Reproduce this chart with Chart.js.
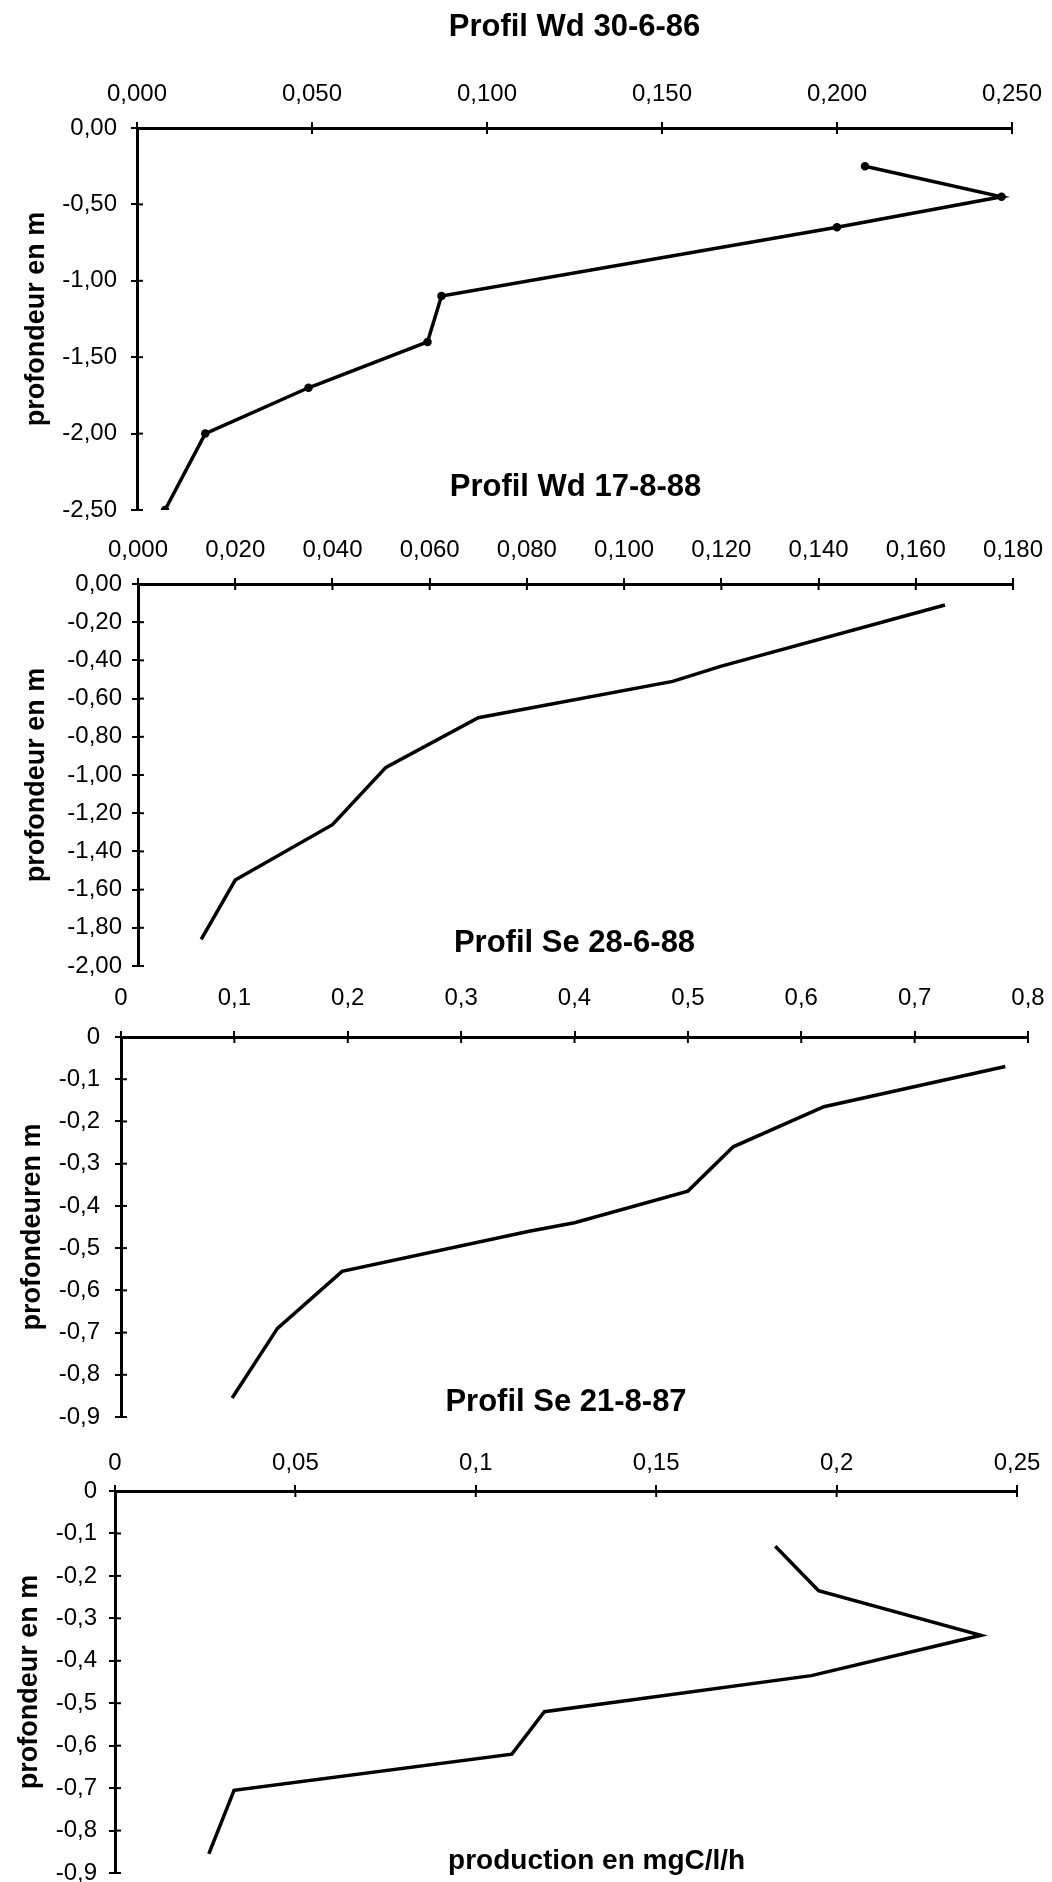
<!DOCTYPE html>
<html lang="fr">
<head>
<meta charset="UTF-8">
<title>Profils de production</title>
<script src="https://cdn.jsdelivr.net/npm/chart.js"></script>
<style>
body {
  margin: 0;
  background: #fff;
  width: 1052px;
  height: 1882px;
  overflow: hidden;
  position: relative;
}
canvas {
  position: absolute;
  left: 0;
}
</style>
</head>
<body>
<canvas id="wd86" width="1052" height="525" style="top:0px"></canvas>
<canvas id="wd88" width="1052" height="521" style="top:460px"></canvas>
<canvas id="se88" width="1052" height="517" style="top:915px"></canvas>
<canvas id="se87" width="1052" height="506" style="top:1376px"></canvas>
<script>
// Profil Wd 30-6-86
var wd86Prod  = [0.208, 0.247, 0.200, 0.087, 0.083, 0.049, 0.0195, 0.008];
var wd86Depth = [-0.25, -0.45, -0.65, -1.10, -1.40, -1.70, -2.00, -2.50];
var wd86XTicks  = [0, 0.05, 0.1, 0.15, 0.2, 0.25];
var wd86XLabels = ['0,000', '0,050', '0,100', '0,150', '0,200', '0,250'];
var wd86YTicks  = [0, -0.5, -1, -1.5, -2, -2.5];
var wd86YLabels = ['0,00', '-0,50', '-1,00', '-1,50', '-2,00', '-2,50'];

// Profil Wd 17-8-88
var wd88Prod  = [0.166, 0.120, 0.110, 0.070, 0.051, 0.040, 0.020, 0.013];
var wd88Depth = [-0.11, -0.43, -0.51, -0.70, -0.96, -1.26, -1.55, -1.86];
var wd88XTicks  = [0, 0.02, 0.04, 0.06, 0.08, 0.1, 0.12, 0.14, 0.16, 0.18];
var wd88XLabels = ['0,000', '0,020', '0,040', '0,060', '0,080', '0,100', '0,120', '0,140', '0,160', '0,180'];
var wd88YTicks  = [0, -0.2, -0.4, -0.6, -0.8, -1, -1.2, -1.4, -1.6, -1.8, -2];
var wd88YLabels = ['0,00', '-0,20', '-0,40', '-0,60', '-0,80', '-1,00', '-1,20', '-1,40', '-1,60', '-1,80', '-2,00'];

// Profil Se 28-6-88
var se88Prod  = [0.78, 0.62, 0.54, 0.50, 0.40, 0.36, 0.195, 0.138, 0.098];
var se88Depth = [-0.07, -0.165, -0.26, -0.365, -0.44, -0.46, -0.555, -0.69, -0.855];
var se88XTicks  = [0, 0.1, 0.2, 0.3, 0.4, 0.5, 0.6, 0.7, 0.8];
var se88XLabels = ['0', '0,1', '0,2', '0,3', '0,4', '0,5', '0,6', '0,7', '0,8'];
var se88YTicks  = [0, -0.1, -0.2, -0.3, -0.4, -0.5, -0.6, -0.7, -0.8, -0.9];
var se88YLabels = ['0', '-0,1', '-0,2', '-0,3', '-0,4', '-0,5', '-0,6', '-0,7', '-0,8', '-0,9'];

// Profil Se 21-8-87
var se87Prod  = [0.183, 0.195, 0.240, 0.193, 0.119, 0.110, 0.033, 0.026];
var se87Depth = [-0.13, -0.235, -0.34, -0.435, -0.52, -0.62, -0.705, -0.855];
var se87XTicks  = [0, 0.05, 0.1, 0.15, 0.2, 0.25];
var se87XLabels = ['0', '0,05', '0,1', '0,15', '0,2', '0,25'];
var se87YTicks  = se88YTicks;
var se87YLabels = se88YLabels;

var FONT = '"Liberation Sans", Arial, sans-serif';

// small cross ticks inside the plot
var innerTicks = {
  id: 'innerTicks',
  afterDraw: function(chart) {
    var a = chart.chartArea, ctx = chart.ctx;
    var sx = chart.scales.x, sy = chart.scales.y;
    ctx.save();
    ctx.strokeStyle = '#000';
    ctx.lineWidth = 2;
    sx.ticks.forEach(function(t) {
      var px = sx.getPixelForValue(t.value);
      ctx.beginPath(); ctx.moveTo(px, a.top); ctx.lineTo(px, a.top + 6); ctx.stroke();
    });
    sy.ticks.forEach(function(t) {
      var py = sy.getPixelForValue(t.value);
      ctx.beginPath(); ctx.moveTo(a.left, py); ctx.lineTo(a.left + 6, py); ctx.stroke();
    });
    ctx.restore();
  }
};

// x axis caption sitting inside the last panel
var caption = {
  id: 'caption',
  afterDraw: function(chart, args, opts) {
    if (!opts || !opts.text) return;
    var a = chart.chartArea, ctx = chart.ctx;
    ctx.save();
    ctx.font = 'bold 28px ' + FONT;
    ctx.fillStyle = '#000';
    ctx.textAlign = 'center';
    ctx.textBaseline = 'middle';
    ctx.fillText(opts.text, a.left + (a.right - a.left) * opts.at, a.bottom - opts.lift);
    ctx.restore();
  }
};

function toPoints(xs, ys) {
  return xs.map(function(x, i) { return {x: x, y: ys[i]}; });
}

function makeProfile(id, p) {
  return new Chart(document.getElementById(id), {
    type: 'scatter',
    data: {
      datasets: [{
        data: toPoints(p.xs, p.ys),
        showLine: true,
        borderColor: '#000',
        backgroundColor: '#000',
        borderWidth: 3.5,
        tension: 0,
        pointRadius: p.dots ? 2.5 : 0,
        pointHoverRadius: 0
      }]
    },
    plugins: [innerTicks, caption],
    options: {
      responsive: false,
      animation: false,
      devicePixelRatio: 1,
      layout: { padding: { left: 0, top: 0, right: p.padRight, bottom: p.padBottom } },
      plugins: {
        legend: { display: false },
        tooltip: { enabled: false },
        title: {
          display: true,
          text: p.title,
          fullSize: false,
          color: '#000',
          font: { family: FONT, size: 31, weight: 'bold' },
          padding: { top: p.titleTop, bottom: 0 }
        },
        caption: p.caption || {}
      },
      scales: {
        x: {
          type: 'linear',
          position: 'top',
          min: 0,
          max: p.xMax,
          afterBuildTicks: function(axis) {
            axis.ticks = p.xTicks.map(function(v) { return {value: v}; });
          },
          afterFit: function(axis) {
            axis.height = p.xHeight;
            axis.paddingLeft = 0; axis.paddingRight = 0;
            axis.paddingTop = 0; axis.paddingBottom = 0;
          },
          ticks: {
            autoSkip: false,
            maxRotation: 0,
            color: '#000',
            padding: p.xPad,
            font: { family: FONT, size: 24 },
            callback: function(v, i) { return p.xLabels[i]; }
          },
          grid: { drawOnChartArea: false, drawTicks: true, tickLength: 6, color: '#000', lineWidth: 2 },
          border: { display: true, color: '#000', width: 3 }
        },
        y: {
          type: 'linear',
          position: 'left',
          min: p.yMin,
          max: 0,
          afterBuildTicks: function(axis) {
            axis.ticks = p.yTicks.map(function(v) { return {value: v}; });
          },
          afterFit: function(axis) {
            axis.width = p.yWidth;
            axis.paddingLeft = 0; axis.paddingRight = 0;
            axis.paddingTop = 0; axis.paddingBottom = 0;
          },
          ticks: {
            autoSkip: false,
            color: '#000',
            padding: p.yPad,
            font: { family: FONT, size: 24 },
            callback: function(v, i) { return p.yLabels[i]; }
          },
          title: {
            display: true,
            text: p.yTitle,
            color: '#000',
            font: { family: FONT, size: 27, weight: 'bold' },
            padding: { top: p.yTitlePad, bottom: 0 }
          },
          grid: { drawOnChartArea: false, drawTicks: true, tickLength: 6, color: '#000', lineWidth: 2 },
          border: { display: true, color: '#000', width: 3 }
        }
      }
    }
  });
}

makeProfile('wd86', {
  title: 'Profil Wd 30-6-86', yTitle: 'profondeur en m',
  xs: wd86Prod, ys: wd86Depth, dots: true,
  xMax: 0.25, xTicks: wd86XTicks, xLabels: wd86XLabels,
  yMin: -2.5, yTicks: wd86YTicks, yLabels: wd86YLabels,
  titleTop: 9, xHeight: 81.8, xPad: 13.6,
  yWidth: 137, yPad: 14, yTitlePad: 20.8,
  padRight: 40, padBottom: 15
});

makeProfile('wd88', {
  title: 'Profil Wd 17-8-88', yTitle: 'profondeur en m',
  xs: wd88Prod, ys: wd88Depth,
  xMax: 0.18, xTicks: wd88XTicks, xLabels: wd88XLabels,
  yMin: -2, yTicks: wd88YTicks, yLabels: wd88YLabels,
  titleTop: 8.4, xHeight: 78.4, xPad: 13.6,
  yWidth: 138, yPad: 10, yTitlePad: 20.8,
  padRight: 39, padBottom: 15
});

makeProfile('se88', {
  title: 'Profil Se 28-6-88', yTitle: 'profondeuren m',
  xs: se88Prod, ys: se88Depth,
  xMax: 0.8, xTicks: se88XTicks, xLabels: se88XLabels,
  yMin: -0.9, yTicks: se88YTicks, yLabels: se88YLabels,
  titleTop: 9.4, xHeight: 75.4, xPad: 18.6,
  yWidth: 121, yPad: 15, yTitlePad: 16.8,
  padRight: 24, padBottom: 15
});

makeProfile('se87', {
  title: 'Profil Se 21-8-87', yTitle: 'profondeur en m',
  xs: se87Prod, ys: se87Depth,
  xMax: 0.25, xTicks: se87XTicks, xLabels: se87XLabels,
  yMin: -0.9, yTicks: se87YTicks, yLabels: se87YLabels,
  titleTop: 7.4, xHeight: 70.4, xPad: 7.6,
  yWidth: 115, yPad: 12, yTitlePad: 13.8,
  padRight: 35, padBottom: 9,
  caption: { text: 'production en mgC/l/h', at: 0.534, lift: 12 }
});
</script>
</body>
</html>
